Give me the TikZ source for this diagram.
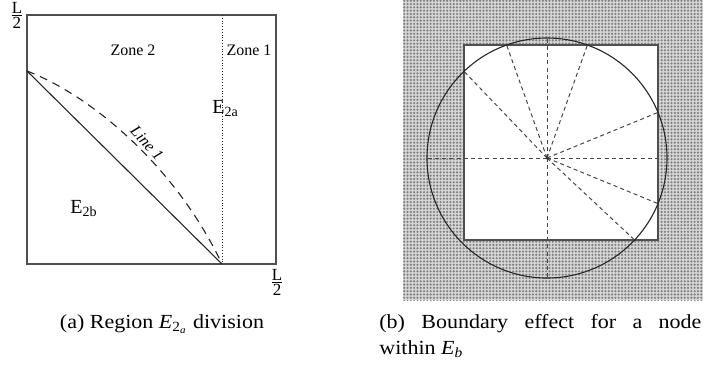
\documentclass[tikz,border=0pt]{standalone}
\usepackage{fontspec}
\setmainfont{Liberation Serif}
\newfontfamily\capfont[FakeStretch=1.1]{Liberation Serif}
\usetikzlibrary{patterns.meta}
\definecolor{FrameGrey}{RGB}{80,80,80}
\definecolor{RayGrey}{RGB}{70,70,70}

\tikzdeclarepattern{
  name=greydots,
  type=uncolored,
  bottom left={(-0.1pt,-0.1pt)},
  top right={(1.75pt,1.75pt)},
  tile size={(1.65pt,1.65pt)},
  code={\fill (0.825pt,0.825pt) circle [radius=0.6pt];}
}

\begin{document}
\begin{tikzpicture}[x=0.5pt,y=-0.5pt, every node/.style={inner sep=0pt},
    frame/.style={draw=FrameGrey, line width=0.6pt},
    edge/.style={draw=black!85, line width=0.55pt},
    ray/.style={draw=RayGrey, line width=0.5pt, dash pattern=on 2pt off 1.6pt},
    zonelbl/.style={font=\fontsize{8}{9}\selectfont},
    reglbl/.style={font=\fontsize{10}{12}\selectfont, anchor=base west},
    fraclbl/.style={font=\fontsize{8.5}{9}\selectfont},
    caplbl/.style={font=\capfont\fontsize{10}{13.3}\selectfont}]
  \useasboundingbox (0,0) rectangle (714,372);

  % (a) region E_2a
  \draw[frame] (27,15) rectangle (276,264);
  \coordinate (ytop) at (27,71);
  \coordinate (xend) at (222,264);
  \coordinate (ztop) at (222,15);
  \draw[edge] (ytop) -- (xend);
  \draw[edge, dash pattern=on 4pt off 3pt] (ytop) .. controls (90,95) and (175,165) .. (xend);
  \draw[edge, line width=0.45pt, dash pattern=on 0.5pt off 0.9pt] (ztop) -- (xend);
  \node[zonelbl] (zone2) at (133,50) {Zone 2};
  \node[zonelbl] (zone1) at (249,50) {Zone 1};
  \node[reglbl] (ea) at (212,113) {E\textsubscript{2a}};
  \node[reglbl] (eb) at (70,213) {E\textsubscript{2b}};
  \node[zonelbl, rotate=-48] (line1) at (147,143) {\textit{Line 1}};
  \node[fraclbl] (half1) at (17,15) {$\frac{\mbox{L}}{\mbox{2}}$};
  \node[fraclbl] (half2) at (277,282) {$\frac{\mbox{L}}{\mbox{2}}$};

  % (b) boundary effect
  \fill[gray!32] (403,0) rectangle (703,300);
  \fill[pattern=greydots, pattern color=black!50] (403,0) rectangle (703,300);
  \draw[frame, fill=white] (464,45) rectangle (658,240);
  \coordinate (nd) at (547,158);
  \foreach \px/\py [count=\i] in {547/38,506.6/45,587.4/45,464/71.3,427/158,
                                  658/158,658/112.4,658/203.6,634.6/240,547/278}
    \coordinate (r\i) at (\px,\py);
  \foreach \i in {1,...,10}
    \draw[ray] (nd) -- (r\i);
  \draw[edge] (nd) circle [radius=120];
  \fill[black!80] (nd) circle [radius=1.5];

  % captions
  \node[caplbl, anchor=base] (capa) at (162,328)
    {(a) Region \textit{E}\textsubscript{2\textsubscript{\textit{a}}} division};
  \node[caplbl, anchor=base west, text width=161pt, align=justify] (capb) at (379,328)
    {(b) Boundary effect for a node\linebreak within \textit{E}\textsubscript{\textit{b}}};
\end{tikzpicture}
\end{document}
